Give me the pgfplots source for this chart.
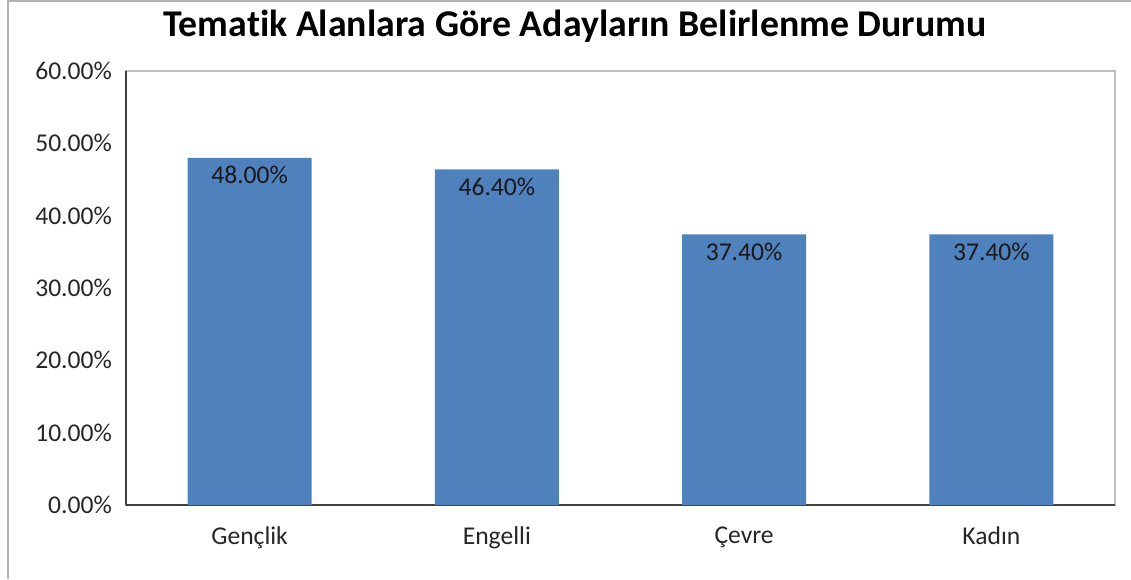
\documentclass[border=0pt]{standalone}
\usepackage{fontspec}
\setmainfont{Carlito}[Ligatures=NoCommon]
\usepackage{pgfplots}
\pgfplotsset{compat=1.18}
\definecolor{barblue}{HTML}{4F81BD}
\begin{document}
\begin{tikzpicture}[x=0.5pt,y=0.5pt]
% picture frame in px-like units, origin bottom left
\useasboundingbox (0,0) rectangle (1131,579);
\draw[black!30, line width=0.75pt] (8,0) -- (8,578) -- (1131,578);
\node[font=\fontsize{18.9}{22}\selectfont\bfseries] at (575,553) {Tematik Alanlara Göre Adayların Belirlenme Durumu};
\begin{axis}[
  at={(63pt,37pt)}, anchor=south west,
  scale only axis, width=494.5pt, height=217pt,
  ybar, bar width=62pt,
  xmin=-0.5, xmax=3.5, ymin=0, ymax=60,
  xtick={0,1,2,3},
  xticklabels={Gençlik,Engelli,Çevre,Kadın},
  ytick distance=10,
  yticklabel={\pgfmathprintnumber[fixed,fixed zerofill,precision=2]{\tick}\%},
  /pgf/number format/assume math mode=true,
  tick label style={font=\fontsize{12.8}{15}\selectfont, text=black!85},
  yticklabel style={xshift=-3.5pt},
  xticklabel style={yshift=-7.5pt},
  major tick length=0pt,
  axis x line*=bottom, axis y line*=left,
  axis line style={-, draw=black!75, line width=0.9pt},
  axis background/.style={draw=black!25, line width=0.6pt},
  nodes near coords={\pgfmathprintnumber[fixed,fixed zerofill,precision=2]{\pgfplotspointmeta}\%},
  nodes near coords style={anchor=north, inner sep=0pt, yshift=-4pt, font=\fontsize{12.8}{15}\selectfont, text=black!90},
]
\addplot[fill=barblue, draw=none] coordinates {(0,48.00) (1,46.40) (2,37.40) (3,37.40)};
\end{axis}
\end{tikzpicture}
\end{document}
